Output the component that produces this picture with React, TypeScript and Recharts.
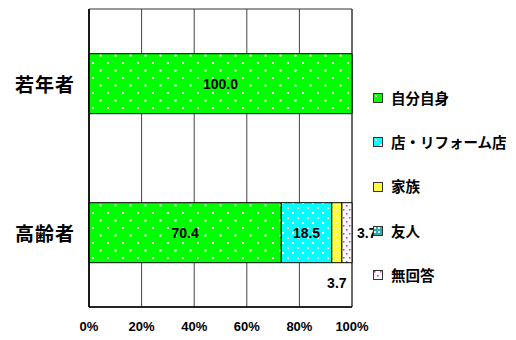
import {
  BarChart,
  Bar,
  XAxis,
  YAxis,
  CartesianGrid,
  LabelList,
  ReferenceArea,
} from 'recharts';

const categories = ['若年者', '高齢者'];
const seriesNames = ['自分自身', '店・リフォーム店', '家族', '友人', '無回答'];
const selfValues = [100.0, 70.4];
const shopValues = [0, 18.5];
const familyValues = [0, 3.7];
const friendValues = [0, 0];
const noAnswerValues = [0, 3.7];
const percentTicks = [0, 0.2, 0.4, 0.6, 0.8, 1];

const seriesValues = [selfValues, shopValues, familyValues, friendValues, noAnswerValues];
const seriesKeys = ['s0', 's1', 's2', 's3', 's4'];
const patternIds = ['pat-self', 'pat-shop', 'pat-family', 'pat-friend', 'pat-none'];
// where Excel put each series' data label
const labelPlacement = ['center', 'center', 'below', 'center', 'right'];

const rows = categories.map((name, i) => {
  const row: Record<string, number | string> = { name };
  seriesKeys.forEach((key, k) => {
    row[key] = seriesValues[k][i];
  });
  return row;
});

const JP_FONT = '"Noto Sans CJK JP", "Noto Sans", sans-serif';
const NUM_FONT = '"Liberation Sans", Arial, sans-serif';

function Patterns() {
  return (
    <svg width={0} height={0} style={{ position: 'absolute' }}>
      <defs>
        <pattern id="pat-self" width={15} height={15} patternUnits="userSpaceOnUse">
          <rect width={15} height={15} fill="#00FF00" />
          <rect x={2} y={2} width={2} height={2} fill="#fff" />
          <rect x={9.5} y={9.5} width={2} height={2} fill="#fff" />
        </pattern>
        <pattern id="pat-shop" width={10} height={10} patternUnits="userSpaceOnUse">
          <rect width={10} height={10} fill="#00FFFF" />
          <rect x={2} y={2} width={2} height={2} fill="#fff" />
          <rect x={7} y={7} width={2} height={2} fill="#fff" />
        </pattern>
        <pattern id="pat-family" width={3} height={3} patternUnits="userSpaceOnUse">
          <rect width={3} height={3} fill="#FFFF33" />
          <rect x={0} y={0} width={1} height={1} fill="#FFFFCC" />
        </pattern>
        <pattern id="pat-friend" width={4} height={4} patternUnits="userSpaceOnUse">
          <rect width={4} height={4} fill="#33AAAA" />
          <rect x={1} y={1} width={2} height={2} fill="#CCFFFF" />
        </pattern>
        <pattern id="pat-none" width={6} height={8} patternUnits="userSpaceOnUse">
          <rect width={6} height={8} fill="#fff" />
          <rect x={1} y={1} width={1.5} height={1.5} fill="#FF00FF" />
          <rect x={4} y={5} width={1.5} height={1.5} fill="#FF00FF" />
        </pattern>
      </defs>
    </svg>
  );
}

function makeLabel(placement: string) {
  return function ValueLabel(props: any) {
    const { x, y, width, height, value } = props;
    if (!value) return null;
    const text = Number(value).toFixed(1);
    let tx = x + width / 2;
    let ty = y + height / 2;
    let anchor: 'middle' | 'start' = 'middle';
    if (placement === 'below') {
      ty = y + height + 20;
    } else if (placement === 'right') {
      tx = x + width + 5;
      anchor = 'start';
    }
    return (
      <text
        x={tx}
        y={ty}
        textAnchor={anchor}
        dominantBaseline="central"
        fontFamily={NUM_FONT}
        fontWeight="bold"
        fontSize={14}
        fill="#000"
      >
        {text}
      </text>
    );
  };
}

function CategoryTick(props: any) {
  const { x, y, payload } = props;
  return (
    <text
      x={x - 6}
      y={y}
      textAnchor="end"
      dominantBaseline="central"
      fontFamily={JP_FONT}
      fontWeight="bold"
      fontSize={19}
      letterSpacing={1}
      fill="#000"
    >
      {payload.value}
    </text>
  );
}

function PercentTick(props: any) {
  const { x, y, payload } = props;
  return (
    <text
      x={x}
      y={y + 16}
      textAnchor="middle"
      fontFamily={NUM_FONT}
      fontWeight="bold"
      fontSize={13}
      fill="#000"
    >
      {`${Math.round(payload.value * 100)}%`}
    </text>
  );
}

function ChartLegend() {
  return (
    <div style={{ position: 'absolute', left: 373, top: 76, whiteSpace: 'nowrap' }}>
      {seriesNames.map((name, k) => (
        <div
          key={name}
          style={{ display: 'flex', alignItems: 'center', height: 44.3 }}
        >
          <svg width={10} height={10} style={{ flexShrink: 0 }}>
            <rect x={0.5} y={0.5} width={9} height={9} fill={`url(#${patternIds[k]})`} stroke="#333" />
          </svg>
          <span
            style={{
              marginLeft: 8,
              fontFamily: JP_FONT,
              fontWeight: 'bold',
              fontSize: 14.5,
              color: '#000',
              lineHeight: 1,
            }}
          >
            {name}
          </span>
        </div>
      ))}
    </div>
  );
}

export default function App() {
  return (
    <div
      style={{
        position: 'absolute',
        left: 0,
        top: 0,
        width: 516,
        height: 340,
        background: '#fff',
      }}
    >
      <Patterns />
      <BarChart
        width={516}
        height={340}
        data={rows}
        layout="vertical"
        stackOffset="expand"
        barCategoryGap="30%"
        margin={{ top: 9, right: 164, bottom: 0, left: 0 }}
      >
        <CartesianGrid horizontal={false} stroke="#444" strokeWidth={1} />
        <XAxis
          type="number"
          domain={[0, 1]}
          ticks={percentTicks}
          tick={<PercentTick />}
          tickLine={false}
          axisLine={{ stroke: '#000', strokeWidth: 1.5 }}
          height={33}
          interval={0}
        />
        <YAxis
          type="category"
          dataKey="name"
          width={89}
          tick={<CategoryTick />}
          tickLine={false}
          axisLine={{ stroke: '#000', strokeWidth: 1.5 }}
        />
        {/* plot frame */}
        <ReferenceArea x1={0} x2={1} fill="none" stroke="#333" strokeWidth={1} fillOpacity={0} />
        {seriesKeys.map((key, k) => (
          <Bar
            key={key}
            dataKey={key}
            name={seriesNames[k]}
            stackId="a"
            fill={`url(#${patternIds[k]})`}
            stroke="#000"
            strokeWidth={1}
            isAnimationActive={false}
          >
            <LabelList dataKey={key} content={makeLabel(labelPlacement[k])} />
          </Bar>
        ))}
      </BarChart>
      <ChartLegend />
    </div>
  );
}
